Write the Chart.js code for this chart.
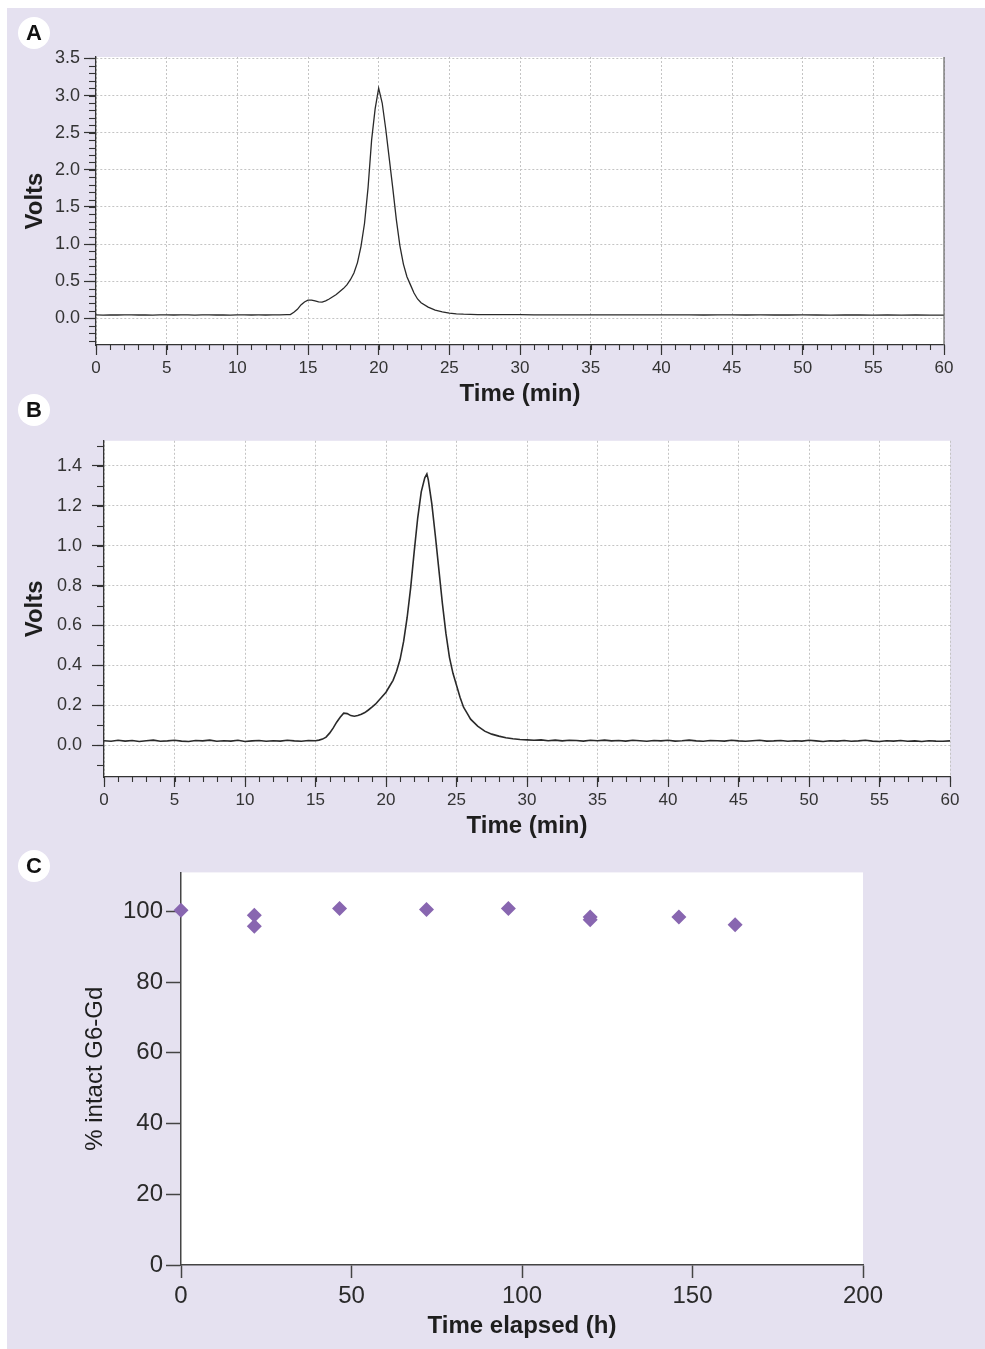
<!DOCTYPE html>
<html>
<head>
<meta charset="utf-8">
<title>G6-Gd stability</title>
<script src="https://cdn.jsdelivr.net/npm/chart.js@4.4.1/dist/chart.umd.min.js"></script>
<style>
  html, body { margin: 0; padding: 0; background: #fff; }
  body { width: 985px; height: 1349px; position: relative; overflow: hidden; font-family: "Liberation Sans", Arial, sans-serif; }
  .sheet { position: absolute; left: 7px; top: 8px; right: 0; bottom: 0; background: #e5e1f0; }
  canvas { position: absolute; left: 0; }
  .tag { position: absolute; width: 32px; height: 32px; border-radius: 50%; background: #fff; color: #111;
         font-weight: bold; font-size: 22px; line-height: 32px; text-align: center; }
</style>
</head>
<body>
<div class="sheet"></div>
<canvas id="chartA" width="985" height="380" style="top:40px"></canvas>
<canvas id="chartB" width="985" height="430" style="top:420px"></canvas>
<canvas id="chartC" width="985" height="494" style="top:855px"></canvas>
<div class="tag" style="left:18px;top:17px">A</div>
<div class="tag" style="left:18px;top:394px">B</div>
<div class="tag" style="left:18px;top:850px">C</div>

<script>
// ---- panel A : chromatogram, fresh sample ----
const timeA = [
  0, 0.5, 1, 1.5, 2, 2.5, 3, 3.5, 4, 4.5, 5, 5.5, 6, 6.5, 7, 7.5, 8, 8.5, 9, 9.5,
  10, 10.5, 11, 11.5, 12, 12.5, 13, 13.5,
  13.75, 14, 14.25, 14.5, 14.75, 15, 15.25, 15.5, 15.75, 16, 16.25, 16.5, 16.75,
  17, 17.25, 17.5, 17.75, 18, 18.25, 18.5, 18.75, 19, 19.25, 19.5, 19.75,
  20, 20.25, 20.5, 20.75, 21, 21.25, 21.5, 21.75, 22, 22.25, 22.5, 22.75, 23,
  23.5, 24, 24.5, 25, 25.5, 26,
  27, 28, 29, 30, 31, 32, 33, 34, 35, 36, 37, 38, 39, 40, 41, 42, 43, 44, 45, 46,
  47, 48, 49, 50, 51, 52, 53, 54, 55, 56, 57, 58, 59, 60
];
const voltsA = [
  0.045, 0.043, 0.046, 0.044, 0.045, 0.047, 0.044, 0.045, 0.043, 0.046, 0.045, 0.044, 0.046, 0.045,
  0.043, 0.045, 0.046, 0.044, 0.045, 0.043, 0.045, 0.046, 0.044, 0.045, 0.044, 0.046, 0.045, 0.048,
  0.05, 0.08, 0.12, 0.18, 0.22, 0.245, 0.245, 0.235, 0.222, 0.218, 0.235, 0.26, 0.29,
  0.32, 0.36, 0.40, 0.45, 0.52, 0.61, 0.75, 0.97, 1.28, 1.76, 2.40, 2.82,
  3.10, 2.90, 2.55, 2.15, 1.75, 1.33, 0.98, 0.73, 0.56, 0.45, 0.34, 0.26, 0.21,
  0.15, 0.11, 0.085, 0.07, 0.06, 0.055,
  0.05, 0.049, 0.048, 0.048, 0.047, 0.047, 0.046, 0.047, 0.046, 0.046,
  0.045, 0.046, 0.045, 0.045, 0.046, 0.045, 0.044, 0.045, 0.045, 0.044,
  0.045, 0.044, 0.044, 0.045, 0.044, 0.043, 0.044, 0.044, 0.043, 0.044,
  0.043, 0.044, 0.043, 0.043
];

// ---- panel B : chromatogram, after incubation ----
const timeB = [
  0, 0.5, 1, 1.5, 2, 2.5, 3, 3.5, 4, 4.5, 5, 5.5, 6, 6.5, 7, 7.5, 8, 8.5, 9, 9.5,
  10, 10.5, 11, 11.5, 12, 12.5, 13, 13.5, 14, 14.5,
  15, 15.25, 15.5, 15.75, 16, 16.25, 16.5, 16.75, 17, 17.25, 17.5, 17.75,
  18, 18.25, 18.5, 18.75, 19, 19.25, 19.5, 19.75, 20, 20.25, 20.5, 20.75,
  21, 21.25, 21.5, 21.75, 22, 22.25, 22.5, 22.75, 22.9, 23, 23.25, 23.5, 23.75,
  24, 24.25, 24.5, 24.75, 25, 25.25, 25.5, 25.75, 26,
  26.5, 27, 27.5, 28, 28.5, 29, 29.5, 30,
  30.5, 31, 31.5, 32, 32.5, 33, 33.5, 34, 34.5, 35, 35.5, 36, 36.5, 37, 37.5, 38, 38.5, 39, 39.5, 40,
  40.5, 41, 41.5, 42, 42.5, 43, 43.5, 44, 44.5, 45, 45.5, 46, 46.5, 47, 47.5, 48, 48.5, 49, 49.5, 50,
  50.5, 51, 51.5, 52, 52.5, 53, 53.5, 54, 54.5, 55, 55.5, 56, 56.5, 57, 57.5, 58, 58.5, 59, 59.5, 60
];
const voltsB = [
  0.022, 0.019, 0.024, 0.020, 0.023, 0.018, 0.022, 0.025, 0.019, 0.021, 0.024, 0.020, 0.018, 0.023, 0.021,
  0.025, 0.019, 0.022, 0.020, 0.024, 0.018, 0.021, 0.023, 0.019, 0.022, 0.020, 0.024, 0.021, 0.019, 0.023,
  0.022, 0.025, 0.030, 0.040, 0.060, 0.085, 0.115, 0.140, 0.160, 0.158, 0.148, 0.145,
  0.148, 0.155, 0.163, 0.176, 0.190, 0.205, 0.225, 0.245, 0.265, 0.295, 0.325, 0.370,
  0.43, 0.52, 0.64, 0.79, 0.97, 1.14, 1.27, 1.34, 1.36, 1.33, 1.21, 1.05, 0.88,
  0.71, 0.56, 0.44, 0.36, 0.30, 0.24, 0.19, 0.16, 0.13,
  0.095, 0.07, 0.055, 0.045, 0.037, 0.032, 0.028, 0.026,
  0.024, 0.026, 0.022, 0.025, 0.021, 0.024, 0.023, 0.020, 0.024, 0.022,
  0.025, 0.021, 0.023, 0.020, 0.024, 0.022, 0.019, 0.023, 0.021, 0.024,
  0.020, 0.022, 0.025, 0.021, 0.019, 0.023, 0.022, 0.020, 0.024, 0.021,
  0.019, 0.022, 0.024, 0.020, 0.021, 0.023, 0.019, 0.022, 0.020, 0.024,
  0.021, 0.018, 0.022, 0.020, 0.023, 0.019, 0.021, 0.024, 0.020, 0.018,
  0.022, 0.020, 0.023, 0.019, 0.021, 0.018, 0.022, 0.020, 0.019, 0.021
];

// ---- panel C : stability over time ----
const hoursC = [0, 21.5, 21.5, 46.5, 72, 96, 120, 120, 146, 162.5];
const intactC = [100.3, 98.9, 95.8, 100.8, 100.5, 100.8, 98.4, 97.6, 98.4, 96.2];

// tick labels
const timeTicks = [0, 5, 10, 15, 20, 25, 30, 35, 40, 45, 50, 55, 60];
const voltTicksA = [0, 0.5, 1, 1.5, 2, 2.5, 3, 3.5];
const voltTicksB = [0, 0.2, 0.4, 0.6, 0.8, 1, 1.2, 1.4];
const hourTicks = [0, 50, 100, 150, 200];
const pctTicks = [0, 20, 40, 60, 80, 100];

const FONT = '"Liberation Sans", Arial, Helvetica, sans-serif';
Chart.defaults.font.family = FONT;
Chart.defaults.color = '#333';
Chart.defaults.animation = false;

// white plot area, minor tick marks, optional right frame line
const panelPlugin = {
  id: 'panel',
  beforeDraw(chart) {
    const { ctx, chartArea: a } = chart;
    ctx.save();
    ctx.fillStyle = '#fff';
    ctx.fillRect(a.left, a.top, a.right - a.left, a.bottom - a.top);
    ctx.restore();
  },
  afterDraw(chart, args, opts) {
    const { ctx, chartArea: a, scales } = chart;
    ctx.save();
    ctx.strokeStyle = '#333';
    ctx.lineWidth = 1.1;
    (opts.minor || []).forEach(m => {
      const s = scales[m.axis];
      const n = Math.round((m.to - m.from) / m.step);
      for (let i = 0; i <= n; i++) {
        const p = Math.round(s.getPixelForValue(m.from + i * m.step)) + 0.5;
        ctx.beginPath();
        if (s.isHorizontal()) {
          ctx.moveTo(p, a.bottom);
          ctx.lineTo(p, a.bottom + m.len);
        } else {
          ctx.moveTo(a.left - m.len, p);
          ctx.lineTo(a.left, p);
        }
        ctx.stroke();
      }
    });
    if (opts.rightLine) {
      ctx.strokeStyle = '#666';
      ctx.lineWidth = 1.2;
      ctx.beginPath();
      ctx.moveTo(a.right, a.top);
      ctx.lineTo(a.right, a.bottom);
      ctx.stroke();
    }
    ctx.restore();
  }
};

function toPoints(xs, ys) {
  return xs.map((x, i) => ({ x: x, y: ys[i] }));
}

function chromatogram(id, xs, ys, c) {
  return new Chart(document.getElementById(id), {
    type: 'scatter',
    data: {
      datasets: [{
        data: toPoints(xs, ys),
        showLine: true,
        pointRadius: 0,
        borderColor: '#2a2a2a',
        borderWidth: c.lineWidth,
        tension: 0
      }]
    },
    options: {
      responsive: false,
      layout: { padding: { left: 0, top: c.padTop, right: c.padRight, bottom: 0 } },
      plugins: {
        legend: { display: false },
        tooltip: { enabled: false },
        panel: {
          rightLine: c.rightLine,
          minor: [
            { axis: 'x', from: 0, to: 60, step: 1, len: 5 },
            { axis: 'y', from: c.minorFrom, to: c.minorTo, step: 0.1, len: 7 }
          ]
        }
      },
      scales: {
        x: {
          type: 'linear', min: 0, max: 60,
          afterBuildTicks: s => { s.ticks = timeTicks.map(v => ({ value: v })); },
          afterFit: s => { s.height = c.xHeight; },
          ticks: { font: { size: 17 }, color: '#333', padding: 3, autoSkip: false, maxRotation: 0 },
          grid: { color: '#c4c4c4', lineWidth: 1, tickLength: 10, tickColor: '#333', tickWidth: 1.2 },
          border: { display: true, color: '#333', width: 1.3, dash: [2, 2] },
          title: { display: true, text: 'Time (min)', color: '#1e1e1e',
                   font: { size: 24, weight: 'bold' }, padding: { top: 0, bottom: c.xTitlePad } }
        },
        y: {
          type: 'linear', min: c.yMin, max: c.yMax,
          afterBuildTicks: s => { s.ticks = c.yTicks.map(v => ({ value: v })); },
          afterFit: s => { s.width = c.yWidth; },
          ticks: { font: { size: 18 }, color: '#333', padding: c.yPad, autoSkip: false,
                   callback: v => v.toFixed(1) },
          grid: { color: '#c4c4c4', lineWidth: 1, tickLength: 12, tickColor: '#333', tickWidth: 1.2 },
          border: { display: true, color: '#333', width: 1.3, dash: [2, 2] },
          title: { display: true, text: 'Volts', color: '#1e1e1e',
                   font: { size: 24, weight: 'bold' }, padding: { top: 21, bottom: 0 } }
        }
      }
    },
    plugins: [panelPlugin]
  });
}

chromatogram('chartA', timeA, voltsA, {
  lineWidth: 1.3, padTop: 17, padRight: 41, xHeight: 75, xTitlePad: 11, yWidth: 96, yPad: 4,
  yMin: -0.36, yMax: 3.52, yTicks: voltTicksA, minorFrom: -0.3, minorTo: 3.5, rightLine: true
});

chromatogram('chartB', timeB, voltsB, {
  lineWidth: 1.6, padTop: 12, padRight: 35, xHeight: 73, xTitlePad: 9, yWidth: 104, yPad: 10,
  yMin: -0.16, yMax: 1.526, yTicks: voltTicksB, minorFrom: -0.1, minorTo: 1.5, rightLine: false
});

new Chart(document.getElementById('chartC'), {
  type: 'scatter',
  data: {
    datasets: [{
      data: toPoints(hoursC, intactC),
      pointStyle: 'rectRot',
      pointRadius: 7.5,
      backgroundColor: '#8866b0',
      borderWidth: 0,
      clip: false
    }]
  },
  options: {
    responsive: false,
    layout: { padding: { left: 0, top: 15, right: 122, bottom: 0 } },
    plugins: { legend: { display: false }, tooltip: { enabled: false } },
    scales: {
      x: {
        type: 'linear', min: 0, max: 200,
        afterBuildTicks: s => { s.ticks = hourTicks.map(v => ({ value: v })); },
        afterFit: s => { s.height = 84; },
        ticks: { font: { size: 24 }, color: '#2a2a2a', padding: 4, autoSkip: false, maxRotation: 0 },
        grid: { drawOnChartArea: false, tickLength: 13, tickColor: '#444', tickWidth: 1.5 },
        border: { display: true, color: '#444', width: 1.5 },
        title: { display: true, text: 'Time elapsed (h)', color: '#1e1e1e',
                 font: { size: 24, weight: 'bold' }, padding: { top: 0, bottom: 8 } }
      },
      y: {
        type: 'linear', min: 0, max: 111,
        afterBuildTicks: s => { s.ticks = pctTicks.map(v => ({ value: v })); },
        afterFit: s => { s.width = 181; },
        ticks: { font: { size: 24 }, color: '#2a2a2a', padding: 3, autoSkip: false },
        grid: { drawOnChartArea: false, tickLength: 15, tickColor: '#444', tickWidth: 1.5 },
        border: { display: true, color: '#444', width: 1.5 },
        title: { display: true, text: '% intact G6-Gd', color: '#1e1e1e',
                 font: { size: 24 }, padding: { top: 81, bottom: 0 } }
      }
    }
  },
  plugins: [panelPlugin]
});
</script>
</body>
</html>
